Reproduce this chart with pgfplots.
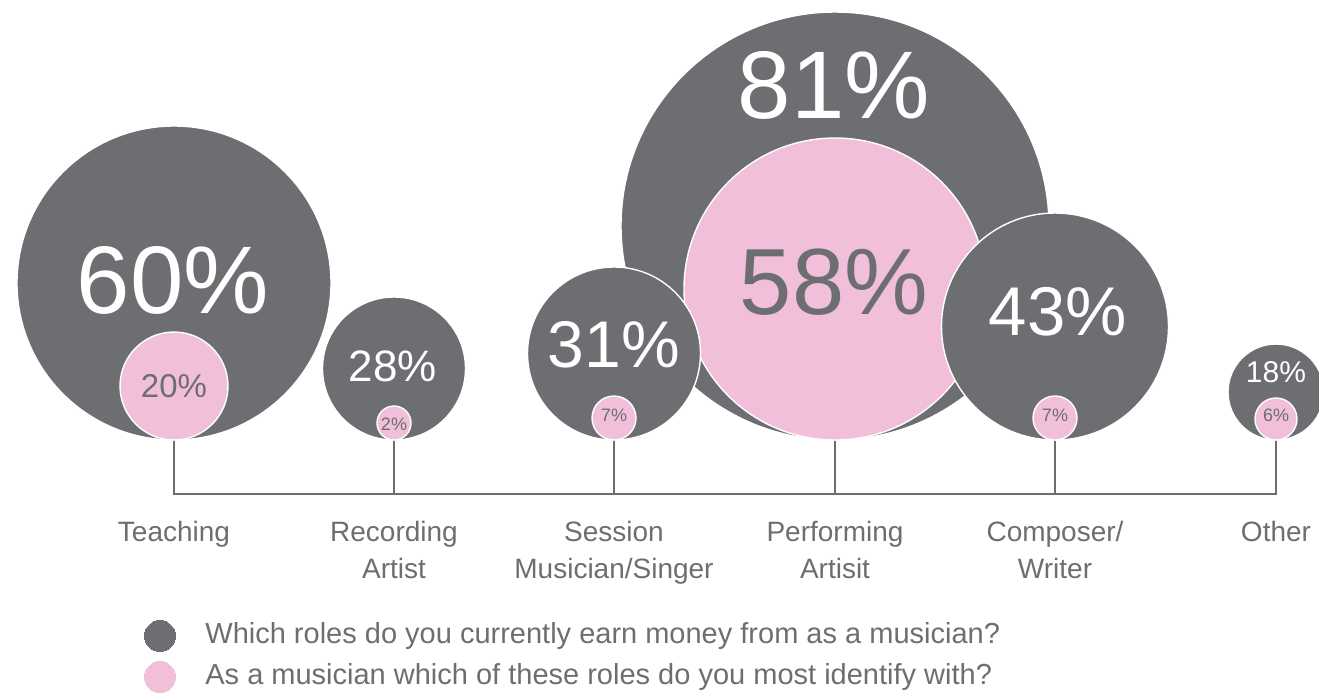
\documentclass[border=0pt]{standalone}
\usepackage{pgfplots}
\pgfplotsset{compat=1.18}
\usepackage{pgfplotstable}
\usepackage{fontspec}
\setmainfont{Liberation Sans}
\definecolor{cgray}{HTML}{6D6E71}
\definecolor{cpink}{HTML}{F2BFDA}

% x y r (pixel units; bubbles rest on y=440)
\pgfplotstableread{
x y r
835 226 214
}\backgray
\pgfplotstableread{
x y r
835 289 151
}\backpink
\pgfplotstableread{
x y r
174 283 157
394 368.5 71.5
614 353.5 86.5
1055 326.5 113.5
1276 392 48
}\grayb
\pgfplotstableread{
x y r
174 386 54
394 423 17
614 418 22
1055 418 22
1276 419 21
}\pinkb

\begin{document}
\begin{tikzpicture}
\begin{axis}[
  x=0.5pt, y=0.5pt, y dir=reverse,
  xmin=0, xmax=1319, ymin=0, ymax=693,
  hide axis, clip=true, clip marker paths=true,
  bubble/.style={scatter, only marks, mark=*, line width=0.7pt,
    scatter/use mapped color={draw=white, fill=#1},
    visualization depends on={\thisrow{r} \as \rad},
    scatter/@pre marker code/.append style={/tikz/mark size=0.5*\rad}},
  unbounded coords=jump,
]
% invisible frame to fix bounding box
\addplot[draw=none, forget plot] coordinates {(0,0) (1319,693)};

% connector lines
\addplot[cgray, line width=1.1pt, forget plot] coordinates {
(174,440) (174,494) (1276,494) (1276,440) (nan,nan)
(394,440) (394,494) (nan,nan)
(614,440) (614,494) (nan,nan)
(835,440) (835,494) (nan,nan)
(1055,440) (1055,494)
};

\addplot[bubble=cgray] table {\backgray};
\addplot[bubble=cpink] table {\backpink};
\addplot[bubble=cgray] table {\grayb};
\addplot[bubble=cpink] table {\pinkb};

% legend markers
\addplot[only marks, mark=*, mark size=7.75pt, mark options={draw=cgray, fill=cgray, line width=0pt}] coordinates {(160,636)};
\addplot[only marks, mark=*, mark size=7.75pt, mark options={draw=cpink, fill=cpink, line width=0pt}] coordinates {(160,677)};

% anchor points for labels
\coordinate (a81) at (axis cs:834,85);
\coordinate (a58) at (axis cs:834,282);
\coordinate (a60) at (axis cs:173,280);
\coordinate (a28) at (axis cs:393,366);
\coordinate (a31) at (axis cs:614,345);
\coordinate (a43) at (axis cs:1058,312);
\coordinate (a18) at (axis cs:1276,372);
\coordinate (a20) at (axis cs:174,386);
\coordinate (a2) at (axis cs:394,424);
\coordinate (a7a) at (axis cs:614,415);
\coordinate (a7b) at (axis cs:1055,415);
\coordinate (a6) at (axis cs:1276,415);

% category labels
\tikzset{cat/.style={text=cgray, font=\fontsize{14}{18.5}\selectfont, align=center, anchor=north, inner sep=0}}
\node[cat] at (axis cs:174,521) {Teaching};
\node[cat] at (axis cs:394,521) {Recording\\Artist};
\node[cat] at (axis cs:614,521) {Session\\Musician/Singer};
\node[cat] at (axis cs:835,521) {Performing\\Artisit};
\node[cat] at (axis cs:1055,521) {Composer/\\Writer};
\node[cat] at (axis cs:1276,521) {Other};

% legend text
\node[text=cgray, font=\fontsize{14.5}{14.5}\selectfont, anchor=west, inner sep=0] at (axis cs:205,636) {Which roles do you currently earn money from as a musician?};
\node[text=cgray, font=\fontsize{14.5}{14.5}\selectfont, anchor=west, inner sep=0] at (axis cs:205,677) {As a musician which of these roles do you most identify with?};
\end{axis}
% bubble labels on top
\node[text=white, font=\fontsize{48}{48}\selectfont, inner sep=0] at (a81) {81\%};
\node[text=cgray, font=\fontsize{47}{47}\selectfont, inner sep=0] at (a58) {58\%};
\node[text=white, font=\fontsize{48}{48}\selectfont, inner sep=0] at (a60) {60\%};
\node[text=white, font=\fontsize{22}{22}\selectfont, inner sep=0] at (a28) {28\%};
\node[text=white, font=\fontsize{33}{33}\selectfont, inner sep=0] at (a31) {31\%};
\node[text=white, font=\fontsize{34.5}{34.5}\selectfont, inner sep=0] at (a43) {43\%};
\node[text=white, font=\fontsize{15}{15}\selectfont, inner sep=0] at (a18) {18\%};
\node[text=cgray, font=\fontsize{16.5}{16.5}\selectfont, inner sep=0] at (a20) {20\%};
\node[text=cgray, font=\fontsize{9}{9}\selectfont, inner sep=0] at (a2) {2\%};
\node[text=cgray, font=\fontsize{9}{9}\selectfont, inner sep=0] at (a7a) {7\%};
\node[text=cgray, font=\fontsize{9}{9}\selectfont, inner sep=0] at (a7b) {7\%};
\node[text=cgray, font=\fontsize{9}{9}\selectfont, inner sep=0] at (a6) {6\%};
\end{tikzpicture}
\end{document}
